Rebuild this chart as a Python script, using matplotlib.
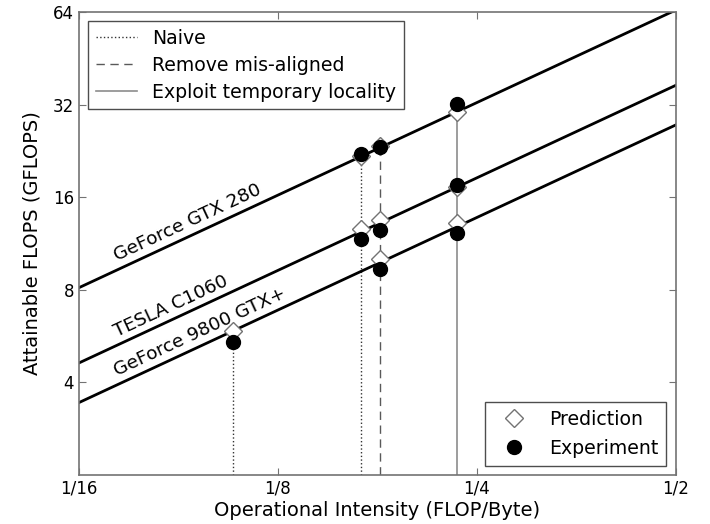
import matplotlib
matplotlib.use("Agg")
import matplotlib.pyplot as plt
import numpy as np
from matplotlib.lines import Line2D

# Data
gpus = ["GeForce GTX 280", "TESLA C1060", "GeForce 9800 GTX+"]
bandwidth = [130.0, 74.0, 55.0]  # GB/s (roofline slope)
variants = ["Naive", "Remove mis-aligned", "Exploit temporary locality"]
# operational intensity per gpu per variant
intensity = {
    "GeForce GTX 280": [0.1668, 0.1783, 0.2334],
    "TESLA C1060": [0.1668, 0.1783, 0.2334],
    "GeForce 9800 GTX+": [0.107, 0.1783, 0.2334],
}
prediction = {
    "GeForce GTX 280": [21.8, 23.4, 30.3],
    "TESLA C1060": [12.6, 13.5, 17.3],
    "GeForce 9800 GTX+": [5.87, 10.1, 13.2],
}
experiment = {
    "GeForce GTX 280": [22.1, 23.3, 32.2],
    "TESLA C1060": [11.7, 12.5, 17.6],
    "GeForce 9800 GTX+": [5.41, 9.36, 12.25],
}
x_ticks = [1/16, 1/8, 1/4, 1/2]
x_ticklabels = ["1/16", "1/8", "1/4", "1/2"]
y_ticks = [4, 8, 16, 32, 64]
label_x = 0.0718

plt.rcParams['font.family'] = ['DejaVu Sans']
fig = plt.figure(figsize=(7.10, 5.24), dpi=100)
ax = fig.add_axes([0.111, 0.0935, 0.841, 0.8835])
ax.set_xscale('log', base=2)
ax.set_yscale('log', base=2)
xmin, xmax = 1/16, 1/2
ymin, ymax = 2, 64
ax.set_xlim(xmin, xmax)
ax.set_ylim(ymin, ymax)

styles = [dict(ls=':', color='0.2', lw=1.0),
          dict(ls=(0, (6, 4)), color='0.35', lw=1.0),
          dict(ls='-', color='0.55', lw=1.2)]

# vertical lines: from bottom to the highest point at each intensity
xs_all = {}
for g in gpus:
    for i, x in enumerate(intensity[g]):
        top = max(prediction[g][i], experiment[g][i])
        key = (i, x)
        xs_all[key] = max(xs_all.get(key, 0), top)
for (i, x), top in xs_all.items():
    ax.plot([x, x], [ymin, top], zorder=1, **styles[i])

# roofline lines
xl = np.array([xmin, xmax])
for g, bw in zip(gpus, bandwidth):
    ax.plot(xl, bw * xl, color='black', lw=2, zorder=2)

# angle of lines in display
fig.canvas.draw()
p1 = ax.transData.transform((xmin, 4))
p2 = ax.transData.transform((xmax, 32))
angle = np.degrees(np.arctan2(p2[1] - p1[1], p2[0] - p1[0]))
for g, bw in zip(gpus, bandwidth):
    ax.annotate(g, xy=(label_x, bw * label_x), xytext=(0, 3), textcoords='offset points',
                rotation=angle, rotation_mode='anchor', ha='left', va='bottom',
                fontsize=13.3)

for g in gpus:
    ax.plot(intensity[g], prediction[g], ls='none', marker='D', ms=9.5,
            mfc='white', mec='0.45', mew=1.0, zorder=3)
    ax.plot(intensity[g], experiment[g], ls='none', marker='o', ms=10,
            mfc='black', mec='black', zorder=4)

ax.set_xticks(x_ticks)
ax.set_xticklabels(x_ticklabels)
ax.set_yticks(y_ticks)
ax.set_yticklabels([str(v) for v in y_ticks])
ax.minorticks_off()
ax.tick_params(direction='in', top=True, right=True, length=5, width=0.8,
               colors='0.45', labelcolor='black', labelsize=12)
for s in ax.spines.values():
    s.set_color('0.45')
    s.set_linewidth(1.2)

ax.set_xlabel("Operational Intensity (FLOP/Byte)", fontsize=14, labelpad=2)
ax.set_ylabel("Attainable FLOPS (GFLOPS)", fontsize=14, labelpad=8)

h1 = [Line2D([], [], **styles[i]) for i in range(3)]
leg1 = ax.legend(h1, variants, loc='upper left', fontsize=13.6, fancybox=False,
                 edgecolor='0.3', framealpha=1, handlelength=2.2, borderaxespad=0.5,
                 labelspacing=0.42)
leg1.get_frame().set_linewidth(1.0)
ax.add_artist(leg1)
h2 = [Line2D([], [], ls='none', marker='D', ms=9.5, mfc='white', mec='0.45'),
      Line2D([], [], ls='none', marker='o', ms=10, mfc='black', mec='black')]
leg2 = ax.legend(h2, ["Prediction", "Experiment"], loc='lower right', fontsize=13.6,
                 fancybox=False, edgecolor='0.3', framealpha=1, handlelength=2.2,
                 borderaxespad=0.5, labelspacing=0.55)
leg2.get_frame().set_linewidth(1.0)

fig.savefig("out.png", dpi=100)
